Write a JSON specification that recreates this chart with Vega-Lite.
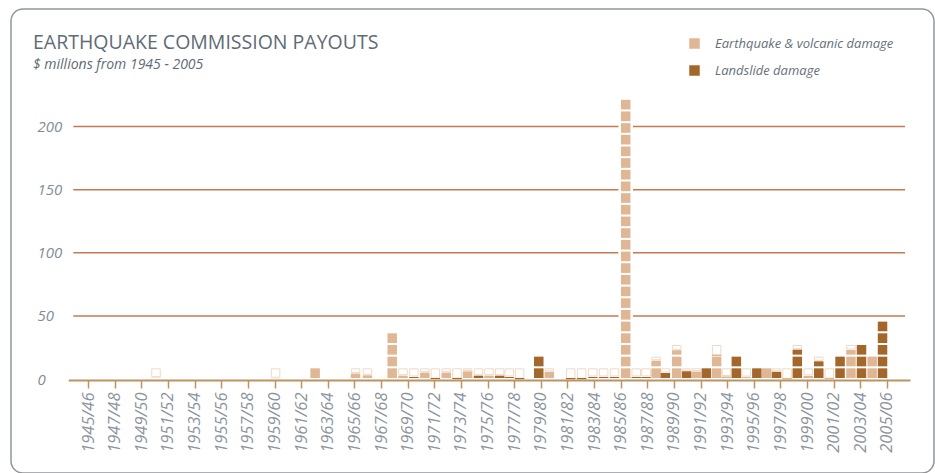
{
  "$schema": "https://vega.github.io/schema/vega-lite/v6.json",
  "width": 923,
  "height": 464,
  "autosize": {"type": "none"},
  "padding": {"left": 11, "top": 9, "right": 1, "bottom": 0},
  "background": "white",
  "config": {
    "view": {"stroke": "#8e979e", "strokeWidth": 1.5, "cornerRadius": 12, "fill": "white"},
    "font": "Open Sans"
  },
  "title": {
    "text": "EARTHQUAKE COMMISSION PAYOUTS",
    "subtitle": "$ millions from 1945 - 2005",
    "anchor": "start",
    "frame": "group",
    "dx": 22,
    "offset": -64,
    "font": "Open Sans",
    "fontSize": 19.5,
    "fontWeight": "normal",
    "color": "#606b75",
    "subtitleFont": "Open Sans",
    "subtitleFontSize": 14,
    "subtitleFontStyle": "italic",
    "subtitleColor": "#606b75",
    "subtitlePadding": 5
  },
  "datasets": {
    "cells": [
      {"t":1950.1,"c":"EQ","k":0,"p":"f","v":1.85},{"t":1950.1,"c":"EQ","k":0,"p":"e","v":7.4},
      {"t":1959.08,"c":"EQ","k":0,"p":"f","v":1.39},{"t":1959.08,"c":"EQ","k":0,"p":"e","v":7.86},
      {"t":1962.05,"c":"EQ","k":0,"p":"f","v":9.25},
      {"t":1965.09,"c":"EQ","k":0,"p":"f","v":5.09},{"t":1965.09,"c":"EQ","k":0,"p":"e","v":4.16},
      {"t":1965.98,"c":"EQ","k":0,"p":"f","v":3.7},{"t":1965.98,"c":"EQ","k":0,"p":"e","v":5.55},
      {"t":1967.84,"c":"EQ","k":0,"p":"f","v":9.25},{"t":1967.84,"c":"EQ","k":1,"p":"f","v":9.25},{"t":1967.84,"c":"EQ","k":2,"p":"f","v":9.25},{"t":1967.84,"c":"EQ","k":3,"p":"f","v":9.25},
      {"t":1968.65,"c":"EQ","k":0,"p":"f","v":3.42},{"t":1968.65,"c":"EQ","k":0,"p":"e","v":5.83},
      {"t":1969.47,"c":"LS","k":0,"p":"f","v":2.4},{"t":1969.47,"c":"LS","k":0,"p":"e","v":6.85},
      {"t":1970.29,"c":"EQ","k":0,"p":"f","v":5.83},{"t":1970.29,"c":"EQ","k":0,"p":"e","v":3.42},
      {"t":1971.08,"c":"LS","k":0,"p":"f","v":0.74},{"t":1971.08,"c":"LS","k":0,"p":"e","v":8.51},
      {"t":1971.9,"c":"EQ","k":0,"p":"f","v":5.83},{"t":1971.9,"c":"EQ","k":0,"p":"e","v":3.42},
      {"t":1972.71,"c":"LS","k":0,"p":"f","v":0.74},{"t":1972.71,"c":"LS","k":0,"p":"e","v":8.51},
      {"t":1973.5,"c":"EQ","k":0,"p":"f","v":6.85},{"t":1973.5,"c":"EQ","k":0,"p":"e","v":2.4},
      {"t":1974.32,"c":"LS","k":0,"p":"f","v":3.42},{"t":1974.32,"c":"LS","k":0,"p":"e","v":5.83},
      {"t":1975.11,"c":"EQ","k":0,"p":"f","v":3.42},{"t":1975.11,"c":"EQ","k":0,"p":"e","v":5.83},
      {"t":1975.91,"c":"LS","k":0,"p":"f","v":3.42},{"t":1975.91,"c":"LS","k":0,"p":"e","v":5.83},
      {"t":1976.63,"c":"LS","k":0,"p":"f","v":2.4},{"t":1976.63,"c":"LS","k":0,"p":"e","v":6.85},
      {"t":1977.41,"c":"LS","k":0,"p":"f","v":0.65},{"t":1977.41,"c":"LS","k":0,"p":"e","v":8.6},
      {"t":1978.85,"c":"LS","k":0,"p":"f","v":9.25},{"t":1978.85,"c":"LS","k":1,"p":"f","v":9.25},
      {"t":1979.64,"c":"EQ","k":0,"p":"f","v":6.48},{"t":1979.64,"c":"EQ","k":0,"p":"e","v":2.77},
      {"t":1981.25,"c":"LS","k":0,"p":"f","v":0.55},{"t":1981.25,"c":"LS","k":0,"p":"e","v":8.7},
      {"t":1982.07,"c":"LS","k":0,"p":"f","v":0.55},{"t":1982.07,"c":"LS","k":0,"p":"e","v":8.7},
      {"t":1982.91,"c":"LS","k":0,"p":"f","v":2.4},{"t":1982.91,"c":"LS","k":0,"p":"e","v":6.85},
      {"t":1983.72,"c":"LS","k":0,"p":"f","v":2.4},{"t":1983.72,"c":"LS","k":0,"p":"e","v":6.85},
      {"t":1984.54,"c":"LS","k":0,"p":"f","v":2.4},{"t":1984.54,"c":"LS","k":0,"p":"e","v":6.85},
      {"t":1985.38,"c":"EQ","k":0,"p":"f","v":9.25},{"t":1985.38,"c":"EQ","k":1,"p":"f","v":9.25},{"t":1985.38,"c":"EQ","k":2,"p":"f","v":9.25},{"t":1985.38,"c":"EQ","k":3,"p":"f","v":9.25},
      {"t":1985.38,"c":"EQ","k":4,"p":"f","v":9.25},{"t":1985.38,"c":"EQ","k":5,"p":"f","v":9.25},{"t":1985.38,"c":"EQ","k":6,"p":"f","v":9.25},{"t":1985.38,"c":"EQ","k":7,"p":"f","v":9.25},
      {"t":1985.38,"c":"EQ","k":8,"p":"f","v":9.25},{"t":1985.38,"c":"EQ","k":9,"p":"f","v":9.25},{"t":1985.38,"c":"EQ","k":10,"p":"f","v":9.25},{"t":1985.38,"c":"EQ","k":11,"p":"f","v":9.25},
      {"t":1985.38,"c":"EQ","k":12,"p":"f","v":9.25},{"t":1985.38,"c":"EQ","k":13,"p":"f","v":9.25},{"t":1985.38,"c":"EQ","k":14,"p":"f","v":9.25},{"t":1985.38,"c":"EQ","k":15,"p":"f","v":9.25},
      {"t":1985.38,"c":"EQ","k":16,"p":"f","v":9.25},{"t":1985.38,"c":"EQ","k":17,"p":"f","v":9.25},{"t":1985.38,"c":"EQ","k":18,"p":"f","v":9.25},{"t":1985.38,"c":"EQ","k":19,"p":"f","v":9.25},
      {"t":1985.38,"c":"EQ","k":20,"p":"f","v":9.25},{"t":1985.38,"c":"EQ","k":21,"p":"f","v":9.25},{"t":1985.38,"c":"EQ","k":22,"p":"f","v":9.25},{"t":1985.38,"c":"EQ","k":23,"p":"f","v":9.25},
      {"t":1986.17,"c":"LS","k":0,"p":"f","v":2.4},{"t":1986.17,"c":"LS","k":0,"p":"e","v":6.85},
      {"t":1986.91,"c":"LS","k":0,"p":"f","v":2.4},{"t":1986.91,"c":"LS","k":0,"p":"e","v":6.85},
      {"t":1987.66,"c":"EQ","k":0,"p":"f","v":9.25},{"t":1987.66,"c":"EQ","k":1,"p":"f","v":6.01},{"t":1987.66,"c":"EQ","k":1,"p":"e","v":3.24},
      {"t":1988.36,"c":"LS","k":0,"p":"f","v":5.55},{"t":1988.36,"c":"LS","k":0,"p":"e","v":3.7},
      {"t":1989.21,"c":"EQ","k":0,"p":"f","v":9.25},{"t":1989.21,"c":"EQ","k":1,"p":"f","v":9.25},{"t":1989.21,"c":"EQ","k":2,"p":"f","v":5.09},{"t":1989.21,"c":"EQ","k":2,"p":"e","v":4.16},
      {"t":1989.96,"c":"LS","k":0,"p":"f","v":6.94},{"t":1989.96,"c":"LS","k":0,"p":"e","v":2.31},
      {"t":1990.7,"c":"EQ","k":0,"p":"f","v":6.66},{"t":1990.7,"c":"EQ","k":0,"p":"e","v":2.59},
      {"t":1991.44,"c":"LS","k":0,"p":"f","v":9.25},
      {"t":1992.21,"c":"EQ","k":0,"p":"f","v":9.25},{"t":1992.21,"c":"EQ","k":1,"p":"f","v":9.25},{"t":1992.21,"c":"EQ","k":2,"p":"f","v":0.46},{"t":1992.21,"c":"EQ","k":2,"p":"e","v":8.79},
      {"t":1992.95,"c":"EQ","k":0,"p":"f","v":2.78},{"t":1992.95,"c":"EQ","k":0,"p":"e","v":6.47},
      {"t":1993.69,"c":"LS","k":0,"p":"f","v":9.25},{"t":1993.69,"c":"LS","k":1,"p":"f","v":9.25},
      {"t":1994.43,"c":"EQ","k":0,"p":"f","v":2.31},{"t":1994.43,"c":"EQ","k":0,"p":"e","v":6.94},
      {"t":1995.23,"c":"LS","k":0,"p":"f","v":9.25},
      {"t":1995.97,"c":"EQ","k":0,"p":"f","v":9.25},
      {"t":1996.71,"c":"LS","k":0,"p":"f","v":6.48},{"t":1996.71,"c":"LS","k":0,"p":"e","v":2.77},
      {"t":1997.5,"c":"EQ","k":0,"p":"f","v":0.46},{"t":1997.5,"c":"EQ","k":0,"p":"e","v":8.79},
      {"t":1998.27,"c":"LS","k":0,"p":"f","v":9.25},{"t":1998.27,"c":"LS","k":1,"p":"f","v":9.25},{"t":1998.27,"c":"LS","k":2,"p":"f","v":5.55},{"t":1998.27,"c":"LS","k":2,"p":"e","v":3.7},
      {"t":1999.09,"c":"EQ","k":0,"p":"f","v":3.24},{"t":1999.09,"c":"EQ","k":0,"p":"e","v":6.01},
      {"t":1999.88,"c":"LS","k":0,"p":"f","v":9.25},{"t":1999.88,"c":"LS","k":1,"p":"f","v":5.55},{"t":1999.88,"c":"LS","k":1,"p":"e","v":3.7},
      {"t":2000.67,"c":"EQ","k":0,"p":"f","v":0.74},{"t":2000.67,"c":"EQ","k":0,"p":"e","v":8.51},
      {"t":2001.48,"c":"LS","k":0,"p":"f","v":9.25},{"t":2001.48,"c":"LS","k":1,"p":"f","v":9.25},
      {"t":2002.3,"c":"EQ","k":0,"p":"f","v":9.25},{"t":2002.3,"c":"EQ","k":1,"p":"f","v":9.25},{"t":2002.3,"c":"EQ","k":2,"p":"f","v":5.27},{"t":2002.3,"c":"EQ","k":2,"p":"e","v":3.98},
      {"t":2003.09,"c":"LS","k":0,"p":"f","v":9.25},{"t":2003.09,"c":"LS","k":1,"p":"f","v":9.25},{"t":2003.09,"c":"LS","k":2,"p":"f","v":9.25},
      {"t":2003.89,"c":"EQ","k":0,"p":"f","v":9.25},{"t":2003.89,"c":"EQ","k":1,"p":"f","v":9.25},
      {"t":2004.67,"c":"LS","k":0,"p":"f","v":9.25},{"t":2004.67,"c":"LS","k":1,"p":"f","v":9.25},{"t":2004.67,"c":"LS","k":2,"p":"f","v":9.25},{"t":2004.67,"c":"LS","k":3,"p":"f","v":9.25},{"t":2004.67,"c":"LS","k":4,"p":"f","v":9.25}
    ],
    "grid": [{"g": 50}, {"g": 100}, {"g": 150}, {"g": 200}]
  },
  "layer": [
    {
      "data": {"name": "grid"},
      "mark": {"type": "rule", "color": "#c47b52", "strokeWidth": 1.5},
      "encoding": {
        "y": {
          "field": "g",
          "type": "quantitative",
          "scale": {"domain": [0, 225], "range": [370, 86], "nice": false, "zero": false},
          "axis": {
            "orient": "left",
            "offset": -26,
            "values": [0, 50, 100, 150, 200],
            "domain": false,
            "ticks": false,
            "grid": false,
            "labelAlign": "left",
            "labelPadding": 0,
            "labelFont": "Open Sans",
            "labelFontStyle": "italic",
            "labelFontSize": 15,
            "labelColor": "#838d96",
            "title": null
          }
        },
        "x": {
          "datum": 1943.887,
          "type": "quantitative",
          "scale": {"domain": [1943.887, 2006.358], "range": [57.3, 899], "nice": false, "zero": false},
          "axis": {
            "orient": "bottom",
            "offset": -93,
            "values": [1945,1947,1949,1951,1953,1955,1957,1959,1961,1963,1965,1967,1969,1971,1973,1975,1977,1979,1981,1983,1985,1987,1989,1991,1993,1995,1997,1999,2001,2003,2005],
            "tickCount": 60,
            "labelExpr": "format(datum.value, 'd') + '/' + slice(format(datum.value + 1, 'd'), 2)",
            "labelAngle": 270,
            "labelAlign": "right",
            "labelBaseline": "middle",
            "labelOverlap": false,
            "labelBound": false,
            "labelFlush": false,
            "domainColor": "#bd9362",
            "domainWidth": 2,
            "tickColor": "#bd9362",
            "tickWidth": 1.5,
            "tickSize": 8,
            "labelPadding": 4,
            "labelFont": "Open Sans",
            "labelFontStyle": "italic",
            "labelFontSize": 16.5,
            "labelColor": "#8a949c",
            "grid": false,
            "title": null,
            "zindex": 1
          }
        },
        "x2": {"datum": 2006.358}
      }
    },
    {
      "data": {"name": "cells"},
      "transform": [
        {"stack": "v", "groupby": ["t"], "sort": [{"field": "k", "order": "ascending"}, {"field": "p", "order": "descending"}], "as": ["lo", "hi"]}
      ],
      "mark": {"type": "bar", "size": 9.5, "fill": "white", "stroke": "white", "strokeWidth": 5},
      "encoding": {
        "x": {"field": "t", "type": "quantitative"},
        "y": {"field": "hi", "type": "quantitative"},
        "y2": {"field": "lo"}
      }
    },
    {
      "data": {"name": "cells"},
      "transform": [
        {"stack": "v", "groupby": ["t"], "sort": [{"field": "k", "order": "ascending"}, {"field": "p", "order": "descending"}], "as": ["lo", "hi"]},
        {"filter": "datum.p == 'e'"}
      ],
      "mark": {"type": "bar", "size": 8.5, "fill": "white", "stroke": "#eed9c7", "strokeWidth": 1, "yOffset": 1.5},
      "encoding": {
        "x": {"field": "t", "type": "quantitative"},
        "y": {"field": "hi", "type": "quantitative"},
        "y2": {"field": "lo"}
      }
    },
    {
      "data": {"name": "cells"},
      "transform": [
        {"stack": "v", "groupby": ["t"], "sort": [{"field": "k", "order": "ascending"}, {"field": "p", "order": "descending"}], "as": ["lo", "hi"]},
        {"filter": "datum.p == 'f'"}
      ],
      "mark": {"type": "bar", "size": 9.5, "yOffset": 1, "y2Offset": -1},
      "encoding": {
        "x": {"field": "t", "type": "quantitative"},
        "y": {"field": "hi", "type": "quantitative"},
        "y2": {"field": "lo"},
        "color": {
          "field": "c",
          "type": "nominal",
          "scale": {"domain": ["EQ", "LS"], "range": ["#e0b794", "#a3672b"]},
          "legend": {
            "orient": "none",
            "legendX": 677,
            "legendY": 28,
            "title": null,
            "symbolType": "square",
            "symbolSize": 110,
            "symbolStrokeWidth": 0,
            "labelFont": "Open Sans",
            "labelFontStyle": "italic",
            "labelFontSize": 13,
            "labelColor": "#66707a",
            "labelOffset": 14,
            "labelLimit": 300,
            "rowPadding": 13,
            "labelExpr": "datum.label == 'EQ' ? 'Earthquake & volcanic damage' : 'Landslide damage'"
          }
        }
      }
    }
  ]
}
